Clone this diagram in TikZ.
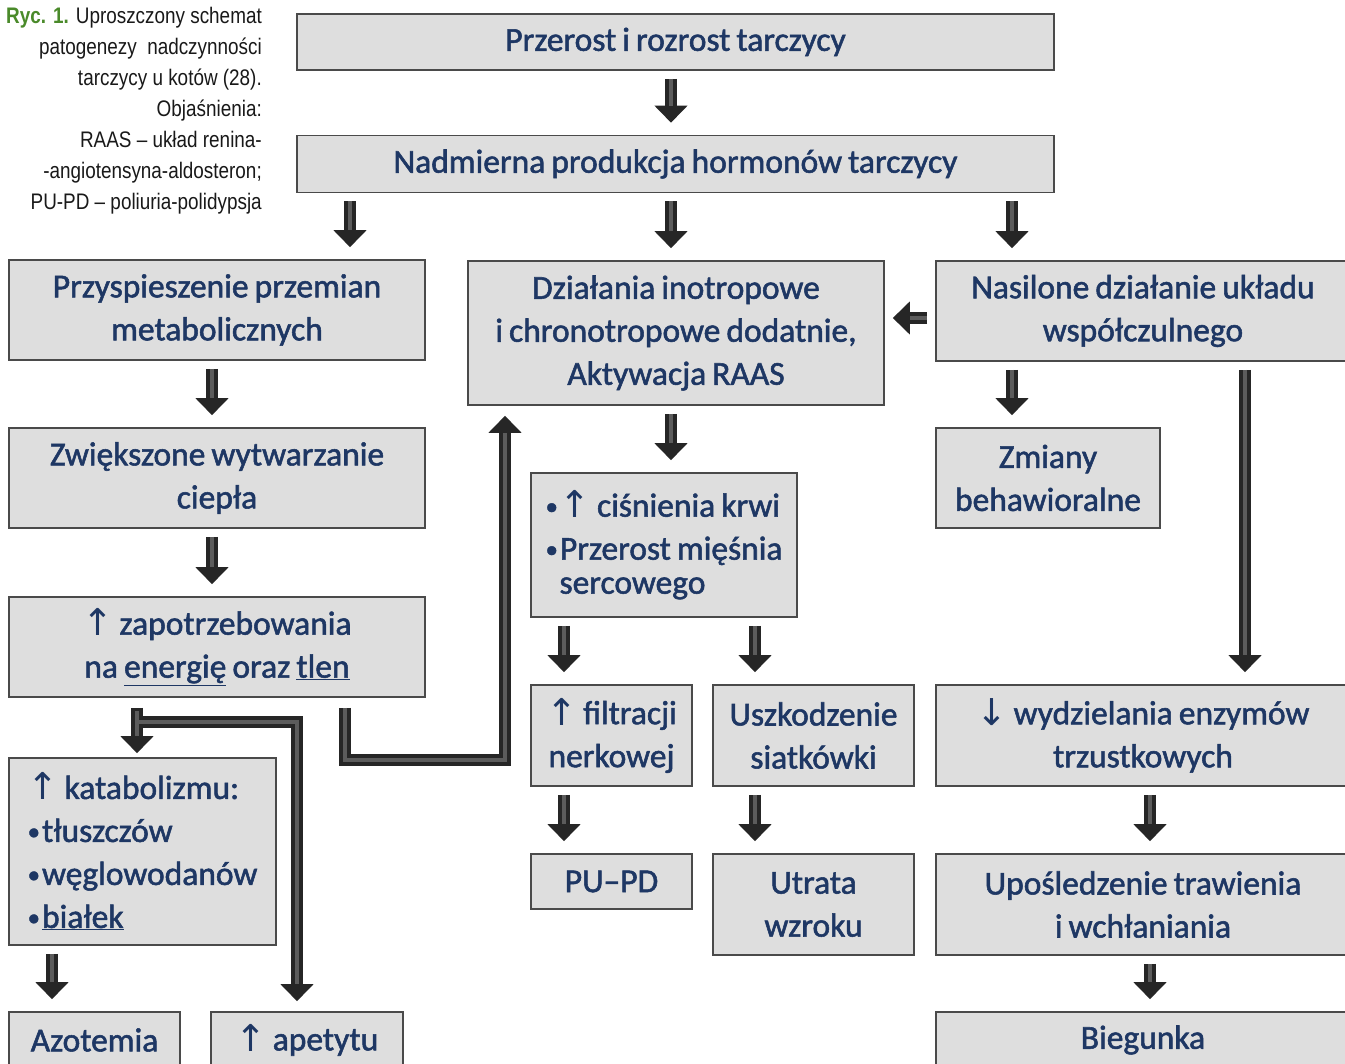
\documentclass[tikz,border=0pt]{standalone}
\usepackage{fontspec}
\setmainfont{Carlito}
\newfontfamily\boxfont[FakeBold=1.6,WordSpace=0.8]{Carlito}
\newfontfamily\capfont[FakeStretch=0.84]{Liberation Sans}
\newfontfamily\sym{DejaVu Sans}
\usetikzlibrary{arrows.meta,calc}
\definecolor{txt}{HTML}{1E3764}
\definecolor{boxfill}{HTML}{DEDEDE}
\definecolor{boxline}{HTML}{4A4A4A}
\definecolor{arrin}{HTML}{5C5C5C}
\definecolor{ryc}{HTML}{4A8A2A}
\tikzset{
 bx/.style={draw=boxline, line width=1.6pt, fill=boxfill, text=txt, inner sep=0pt,
   font=\boxfont\fontsize{33.5}{43}\selectfont, align=center},
 fatout/.style={line width=12pt, draw=black!85, line join=miter,
   -{Triangle[length=17pt,width=32pt]}},
 fatin/.style={line width=4pt, draw=arrin, line join=miter, shorten >=17pt},
}
\newcommand\fatarrow[1]{\draw[fatout] #1; \draw[fatin] #1;}
\newcommand\va[3]{\fatarrow{($(#1.south -| #3,0)+(0,8)$) -- ($(#2.north -| #3,0)+(0,-12)$)}}
\newcommand\up{{\sym\fontsize{37}{37}\selectfont\raisebox{-1pt}{↑}}}
\newcommand\dn{{\sym\fontsize{37}{37}\selectfont\raisebox{-1pt}{↓}}}
\newcommand\bul{{\fontsize{25}{25}\selectfont\raisebox{2pt}{\textbullet}}\hspace{2pt}}
\begin{document}
\begin{tikzpicture}[x=1pt,y=-1pt]
\useasboundingbox[fill=white] (0,0) rectangle (1345,1064);
% caption
\node[anchor=north east, align=right, inner sep=0pt, text=black!90,
  font=\capfont\fontsize{22.5}{31}\selectfont] (cap) at (262,7)
 {{\color{ryc}\bfseries Ryc. 1.} Uproszczony schemat\\
  patogenezy \ nadczynności\\
  tarczycy u kotów (28).\\
  Objaśnienia:\\
  RAAS – układ renina-\\
  -angiotensyna-aldosteron;\\
  PU-PD – poliuria-polidypsja};
% boxes
\node[bx, minimum width=757, minimum height=56] (b1) at (675.5,42) {Przerost i rozrost tarczycy};
\node[bx, minimum width=757, minimum height=57] (b2) at (675.5,164) {Nadmierna produkcja hormonów tarczycy};
\node[bx, minimum width=416, minimum height=100] (b3) at (217,310) {Przyspieszenie przemian\\metabolicznych};
\node[bx, minimum width=416, minimum height=144] (b4) at (676,333) {Działania inotropowe\\i chronotropowe dodatnie,\\Aktywacja RAAS};
\node[bx, minimum width=414, minimum height=100] (b5) at (1143,311) {Nasilone działanie układu\\współczulnego};
\node[bx, minimum width=416, minimum height=100] (b6) at (217,478) {Zwiększone wytwarzanie\\ciepła};
\node[bx, minimum width=266, minimum height=144, align=left] (b7) at (664,545)
 {\bul\up\ ciśnienia krwi\\\bul Przerost mięśnia\\[-9pt]\hspace*{14pt}sercowego};
\node[bx, minimum width=224, minimum height=100] (b8) at (1048,478) {Zmiany\\behawioralne};
\node[bx, minimum width=416, minimum height=100] (b9) at (217,647) {\up\ zapotrzebowania\\na \underline{energię} oraz \underline{tlen}};
\node[bx, minimum width=161, minimum height=101] (b10) at (611.5,735.5) {\up\ filtracji\\nerkowej};
\node[bx, minimum width=201, minimum height=101] (b11) at (813.5,735.5) {Uszkodzenie\\siatkówki};
\node[bx, minimum width=414, minimum height=101] (b12) at (1143,735.5) {\dn\ wydzielania enzymów\\trzustkowych};
\node[bx, minimum width=267, minimum height=187, align=left] (b13) at (142.5,851.5)
 {\up\ katabolizmu:\\\bul tłuszczów\\\bul węglowodanów\\\bul\underline{białek}};
\node[bx, minimum width=161, minimum height=55] (b14) at (611.5,881.5) {PU–PD};
\node[bx, minimum width=201, minimum height=101] (b15) at (813.5,904.5) {Utrata\\wzroku};
\node[bx, minimum width=414, minimum height=101] (b16) at (1143,904.5) {Upośledzenie trawienia\\i wchłaniania};
\node[bx, minimum width=171, minimum height=56] (b17) at (94.5,1040) {Azotemia};
\node[bx, minimum width=192, minimum height=56] (b18) at (307,1040) {\up\ apetytu};
\node[bx, minimum width=414, minimum height=56] (b19) at (1143,1040) {Biegunka};
% arrows
\va{b1}{b2}{671}
\va{b2}{b3}{350}
\va{b2}{b4}{671}
\va{b2}{b5}{1012}
\va{b3}{b6}{212}
\va{b6}{b9}{212}
\va{b5}{b8}{1012}
\va{b4}{b7}{671}
\va{b7}{b10}{564}
\va{b7}{b11}{755}
\va{b10}{b14}{564}
\va{b11}{b15}{755}
\va{b12}{b16}{1150}
\va{b16}{b19}{1150}
\va{b13}{b17}{52}
\va{b5}{b12}{1245}
\fatarrow{($(b5.west |- 0,318)+(-8,0)$) -- ($(b4.east |- 0,318)+(8,0)$)}
% loop back to b4
\fatarrow{($(b9.south -| 345,0)+(0,10)$) -- (345,760) -- (505,760) -- ($(b4.south -| 505,0)+(0,10)$)}
% T split
\coordinate (tj) at (137,722);
\draw[fatout] ($(b9.south -| 137,0)+(0,10)$) -- ($(b13.north -| 137,0)+(0,-4)$);
\draw[fatout] (tj) -- (297,722) -- ($(b18.north -| 297,0)+(0,-10)$);
\draw[fatin] ($(b9.south -| 137,0)+(0,13)$) -- ($(b13.north -| 137,0)+(0,-4)$);
\draw[fatin] (tj) -- (297,722) -- ($(b18.north -| 297,0)+(0,-10)$);
\end{tikzpicture}
\end{document}
